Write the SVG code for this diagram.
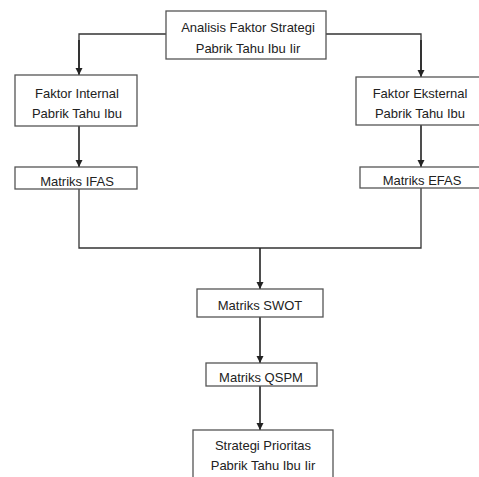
<svg xmlns="http://www.w3.org/2000/svg" width="479" height="477" viewBox="0 0 479 477">
<defs>
<marker id="arr" markerWidth="8" markerHeight="8" refX="7" refY="4" orient="auto" markerUnits="userSpaceOnUse">
<path d="M0,0.5 L7,4 L0,7.5 Z" fill="#222"/>
</marker>
<style>
.box{fill:#fff;stroke:#555;stroke-width:1.3}
.t{font-family:"Liberation Sans",Arial,sans-serif;font-size:13px;fill:#222;text-anchor:middle}
.c{fill:none;stroke:#333;stroke-width:1.3}
.a{fill:none;stroke:#222;stroke-width:1.6;marker-end:url(#arr)}
</style>
</defs>
<rect width="479" height="477" fill="#fff"/>
<g id="connectors">
<polyline class="c" points="166,34 79,34 79,68"/>
<line class="a" x1="79" y1="40" x2="79" y2="75"/>
<polyline class="c" points="326,34 421,34 421,70"/>
<line class="a" x1="421" y1="40" x2="421" y2="77"/>
<line class="a" x1="79" y1="126" x2="79" y2="167"/>
<line class="a" x1="421" y1="125" x2="421" y2="167"/>
<polyline class="c" points="79,189 79,248 421,248 421,188"/>
<line class="a" x1="260" y1="248" x2="260" y2="289"/>
<line class="a" x1="260" y1="317" x2="260" y2="363"/>
<line class="a" x1="260" y1="386" x2="260" y2="430"/>
</g>
<g id="n_top">
<rect class="box" x="166" y="11" width="160" height="48"/>
<text class="t" x="248" y="32">Analisis Faktor Strategi</text>
<text class="t" x="248" y="53">Pabrik Tahu Ibu Iir</text>
</g>
<g id="n_internal">
<rect class="box" x="15" y="75" width="122" height="51"/>
<text class="t" x="77" y="98">Faktor Internal</text>
<text class="t" x="77" y="118">Pabrik Tahu Ibu</text>
</g>
<g id="n_eksternal">
<rect class="box" x="356" y="77" width="130" height="48"/>
<text class="t" x="420" y="98">Faktor Eksternal</text>
<text class="t" x="420" y="118">Pabrik Tahu Ibu</text>
</g>
<g id="n_ifas">
<rect class="box" x="15" y="167" width="122" height="22"/>
<text class="t" x="77" y="186">Matriks IFAS</text>
</g>
<g id="n_efas">
<rect class="box" x="360" y="167" width="126" height="21"/>
<text class="t" x="422" y="185">Matriks EFAS</text>
</g>
<g id="n_swot">
<rect class="box" x="197" y="289" width="126" height="28"/>
<text class="t" x="260" y="310">Matriks SWOT</text>
</g>
<g id="n_qspm">
<rect class="box" x="206" y="363" width="111" height="23"/>
<text class="t" x="261" y="382">Matriks QSPM</text>
</g>
<g id="n_prioritas">
<rect class="box" x="193" y="430" width="140" height="60"/>
<text class="t" x="263" y="450">Strategi Prioritas</text>
<text class="t" x="263" y="470">Pabrik Tahu Ibu Iir</text>
</g>
</svg>
